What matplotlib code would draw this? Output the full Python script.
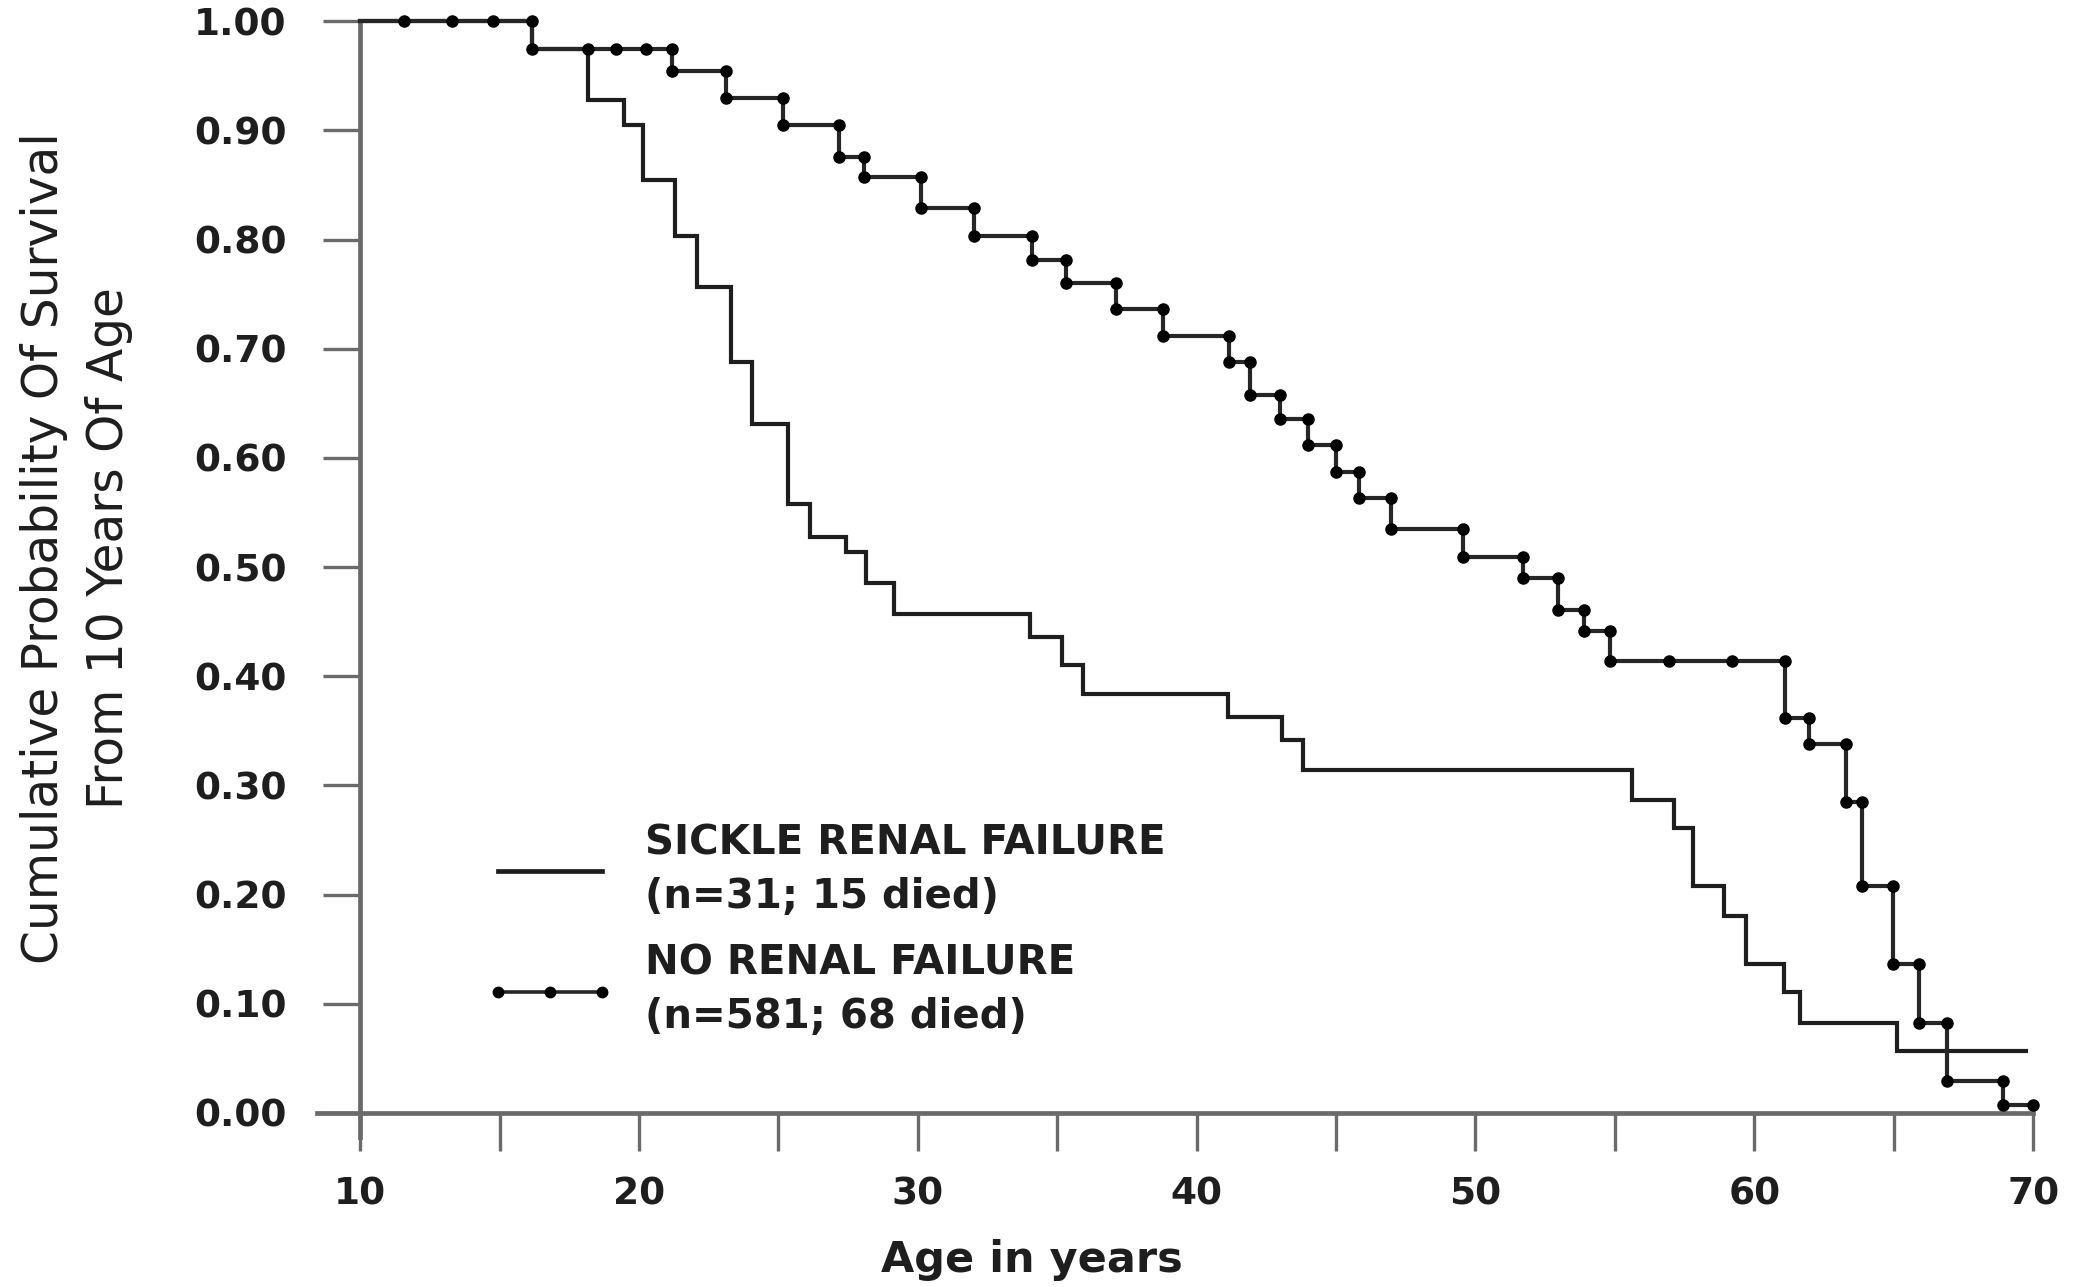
import numpy as np
import matplotlib
matplotlib.use("Agg")
import matplotlib.pyplot as plt
from matplotlib.lines import Line2D

plt.rcParams['font.family'] = ['DejaVu Sans']

# ---------------- data ----------------
# Sickle renal failure: step times (age) and survival after each step
sickle_times = [10.0, 16.17, 18.19, 19.48, 20.14, 21.29, 22.10, 23.29, 24.05,
                25.33, 26.14, 27.43, 28.14, 29.14, 34.03, 35.18, 35.94, 41.12,
                43.06, 43.82, 55.62, 57.11, 57.82, 58.93, 59.69, 61.07, 61.64,
                65.12]
sickle_surv = [1.0, 0.975, 0.928, 0.905, 0.855, 0.803, 0.757, 0.688, 0.631,
               0.558, 0.528, 0.514, 0.485, 0.457, 0.436, 0.410, 0.384, 0.363,
               0.342, 0.314, 0.287, 0.261, 0.208, 0.180, 0.136, 0.111, 0.082,
               0.057]
sickle_end = 69.74

# No renal failure
no_renal_times = [10.0, 16.17, 21.19, 23.13, 25.18, 27.17, 28.06, 30.13, 32.03,
                  34.11, 35.31, 37.10, 38.79, 41.17, 41.90, 42.99, 44.00, 45.00,
                  45.83, 46.99, 49.57, 51.71, 52.97, 53.90, 54.84, 61.10, 61.95,
                  63.29, 63.86, 64.99, 65.92, 66.92, 68.92]
no_renal_surv = [1.0, 0.975, 0.954, 0.930, 0.905, 0.876, 0.857, 0.829, 0.803,
                 0.781, 0.760, 0.736, 0.712, 0.688, 0.658, 0.636, 0.612, 0.587,
                 0.563, 0.535, 0.509, 0.490, 0.461, 0.441, 0.414, 0.362, 0.338,
                 0.285, 0.208, 0.136, 0.082, 0.029, 0.0075]
no_renal_end = 70.0
no_renal_extra_marks = [11.57, 13.30, 14.77, 18.18, 19.19, 20.26, 56.94, 59.20]

x_major = [10, 20, 30, 40, 50, 60, 70]
x_minor = [15, 25, 35, 45, 55, 65]
x_tick_labels = ["10", "20", "30", "40", "50", "60", "70"]
y_ticks = [0.0, 0.1, 0.2, 0.3, 0.4, 0.5, 0.6, 0.7, 0.8, 0.9, 1.0]
y_tick_labels = ["0.00", "0.10", "0.20", "0.30", "0.40", "0.50", "0.60",
                 "0.70", "0.80", "0.90", "1.00"]

legend_labels = ["SICKLE RENAL FAILURE\n(n=31; 15 died)",
                 "NO RENAL FAILURE\n(n=581; 68 died)"]
x_label = "Age in years"
y_label = "Cumulative Probability Of Survival\nFrom 10 Years Of Age"

# ---------------- figure ----------------
W, H = 2082, 1287
fig = plt.figure(figsize=(W / 100, H / 100), dpi=100)
ax = fig.add_axes([0.1522, 0.1166, 0.9765 - 0.1522, 0.9835 - 0.1166])
ax.set_xlim(8.45, 70)
ax.set_ylim(-0.022, 1.0)

line_col = '#1e1e1e'
axis_col = '#6a6a6a'
text_col = '#1e1e1e'

# Sickle curve
st = np.array(sickle_times + [sickle_end])
ss = np.array(sickle_surv + [sickle_surv[-1]])
ax.step(st, ss, where='post', color=line_col, lw=3.0, clip_on=False, zorder=3,
        solid_joinstyle='miter')

# No renal failure curve
nt = np.array(no_renal_times + [no_renal_end])
ns = np.array(no_renal_surv + [no_renal_surv[-1]])
ax.step(nt, ns, where='post', color='#262626', lw=3.0, clip_on=False, zorder=4,
        solid_joinstyle='miter')

# markers at both corners of every step
nt_arr = np.array(no_renal_times)
ns_arr = np.array(no_renal_surv)
mx = np.concatenate([nt_arr[1:], nt_arr[1:]])
my = np.concatenate([ns_arr[:-1], ns_arr[1:]])
# markers on flat stretches
extra = np.array(no_renal_extra_marks)
idx = np.searchsorted(nt_arr, extra, side='right') - 1
mx = np.concatenate([mx, extra, [no_renal_end]])
my = np.concatenate([my, ns_arr[idx], [no_renal_surv[-1]]])
ax.plot(mx, my, ls='none', marker='o', ms=8, color='black', clip_on=False,
        zorder=5)

# ---------------- axes styling ----------------
for s in ['top', 'right']:
    ax.spines[s].set_visible(False)
ax.spines['left'].set_position(('data', 10))
ax.spines['bottom'].set_position(('data', 0))
for s in ['left', 'bottom']:
    ax.spines[s].set_color(axis_col)
    ax.spines[s].set_linewidth(3.4)

ax.set_xticks(x_major)
ax.set_xticklabels(x_tick_labels)
ax.set_xticks(x_minor, minor=True)
ax.set_yticks(y_ticks)
ax.set_yticklabels(y_tick_labels)

ax.tick_params(axis='both', which='both', direction='out', length=27,
               width=2.4, color=axis_col)
ax.tick_params(axis='x', which='major', pad=19, labelsize=27)
ax.tick_params(axis='y', which='major', pad=26, labelsize=27)
for lab in ax.get_xticklabels() + ax.get_yticklabels():
    lab.set_fontweight('bold')
    lab.set_color(text_col)

ax.set_xlabel(x_label, fontsize=31, fontweight='bold', color=text_col,
              va='center')
ax.xaxis.set_label_coords(0.4167, -0.110)

ax.set_ylabel(y_label, fontsize=35, fontweight='normal', color=text_col,
              ha='center', va='center', linespacing=1.45)
ax.yaxis.set_label_coords(-0.1400, 0.5279)

# ---------------- legend ----------------
handles = [
    Line2D([], [], color=line_col, lw=3.4),
    Line2D([], [], color='#262626', lw=2.6, marker='o', ms=7.5, mfc='black',
           mec='black'),
]
leg = ax.legend(handles, legend_labels, loc='upper left',
                bbox_to_anchor=(485.5 / W, 1 - 823.5 / H),
                bbox_transform=fig.transFigure, frameon=False,
                fontsize=29, handlelength=3.2, handletextpad=0.75,
                labelspacing=0.68, borderpad=0, borderaxespad=0, numpoints=3)
for t in leg.get_texts():
    t.set_fontweight('bold')
    t.set_color(text_col)
    t.set_linespacing(1.42)

fig.savefig('out.png', dpi=100, facecolor='white')
